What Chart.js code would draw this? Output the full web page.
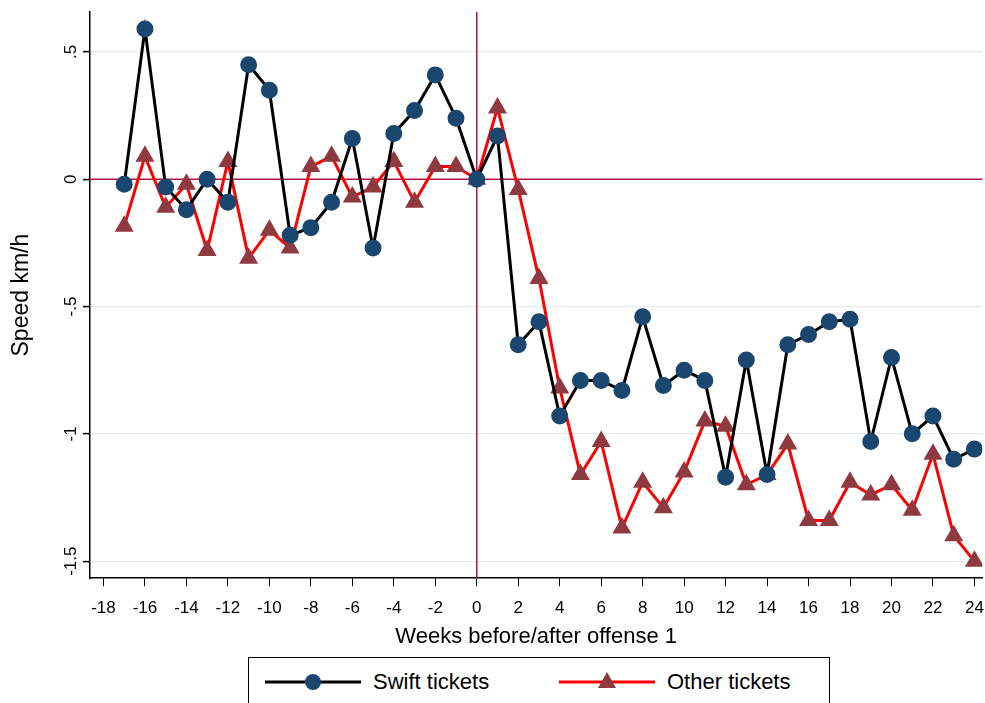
<!DOCTYPE html>
<html lang="en">
<head>
<meta charset="UTF-8">
<title>Speed before/after offense</title>
<script src="https://cdn.jsdelivr.net/npm/chart.js"></script>
<style>
 body { margin: 0; background: #fff; font-family: Arial, 'Liberation Sans', sans-serif; overflow: hidden; }
 .wrap { position: relative; width: 985px; height: 655px; overflow: hidden; }
 .legend {
   position: absolute; left: 248px; top: 657px; width: 582px; height: 50px;
   border: 1px solid #000; box-sizing: border-box; display: flex; align-items: center;
   font-size: 22px; color: #000;
 }
 .legend canvas { margin-left: 14px; margin-right: 10px; }
</style>
</head>
<body>
<div class="wrap"><canvas id="speedChart" width="996" height="654"></canvas></div>
<div class="legend">
 <canvas id="lg1" width="100" height="30"></canvas><span style="width:170px">Swift tickets</span>
 <canvas id="lg2" width="100" height="30"></canvas><span>Other tickets</span>
</div>
<script>
 let weeks = [];
 for (let w = -17; w <= 24; w++) weeks.push(w);
 let swiftTickets = [-0.02,0.59,-0.03,-0.12,0.0,-0.09,0.45,0.35,-0.22,-0.19,-0.09,0.16,-0.27,0.18,0.27,0.41,0.24,0,
   0.17,-0.65,-0.56,-0.93,-0.79,-0.79,-0.83,-0.54,-0.81,-0.75,-0.79,-1.17,-0.71,-1.16,-0.65,-0.61,-0.56,-0.55,-1.03,-0.70,-1.00,-0.93,-1.10,-1.06];
 let otherTickets = [-0.185,0.09,-0.11,-0.02,-0.28,0.07,-0.31,-0.2,-0.27,0.05,0.09,-0.07,-0.03,0.07,-0.09,0.05,0.05,0,
   0.28,-0.04,-0.39,-0.82,-1.16,-1.03,-1.37,-1.19,-1.29,-1.15,-0.95,-0.97,-1.2,-1.16,-1.04,-1.34,-1.34,-1.19,-1.24,-1.2,-1.3,-1.08,-1.4,-1.5];
 let xTicks = [-18,-16,-14,-12,-10,-8,-6,-4,-2,0,2,4,6,8,10,12,14,16,18,20,22,24];
 let yTicks = [0.5,0,-0.5,-1,-1.5];
 let yLabels = ['.5','0','-.5','-1','-1.5'];

 const refColor = '#b5123e';
 const blackLine = '#000000', blueDot = '#1a476f';
 const redLine = '#ff0000', redTri = '#8f3a40';

 const extras = {
   id: 'extras',
   beforeDatasetsDraw(chart) {
     const c = chart.ctx, a = chart.chartArea, x = chart.scales.x, y = chart.scales.y;
     c.save();
     c.strokeStyle = refColor; c.lineWidth = 1.5;
     let px = x.getPixelForValue(0), py = y.getPixelForValue(0);
     c.beginPath(); c.moveTo(px, a.top); c.lineTo(px, a.bottom); c.stroke();
     c.beginPath(); c.moveTo(a.left, py); c.lineTo(a.right, py); c.stroke();
     c.restore();
   },
   afterDraw(chart) {
     const c = chart.ctx, y = chart.scales.y, a = chart.chartArea;
     c.save();
     c.fillStyle = '#000'; c.font = '17px Arial, "Liberation Sans"';
     c.textAlign = 'center'; c.textBaseline = 'bottom';
     yTicks.forEach((v, i) => {
       c.save();
       c.translate(a.left - 10, y.getPixelForValue(v));
       c.rotate(-Math.PI / 2);
       c.fillText(yLabels[i], 0, 0);
       c.restore();
     });
     c.restore();
   }
 };

 new Chart(document.getElementById('speedChart'), {
   type: 'line',
   data: {
     labels: weeks,
     datasets: [{
       label: 'Swift tickets',
       data: weeks.map((w, i) => ({ x: w, y: swiftTickets[i] })),
       borderColor: blackLine, borderWidth: 3, pointStyle: 'circle',
       pointRadius: 7, pointBackgroundColor: blueDot, pointBorderColor: blueDot, tension: 0
     }, {
       label: 'Other tickets',
       data: weeks.map((w, i) => ({ x: w, y: otherTickets[i] })),
       borderColor: redLine, borderWidth: 3, pointStyle: 'triangle',
       pointRadius: 8, pointBackgroundColor: redTri, pointBorderColor: redTri, tension: 0
     }]
   },
   plugins: [extras],
   options: {
     responsive: false, animation: false,
     layout: { padding: { top: 12, right: 0, bottom: 0, left: 0 } },
     plugins: { legend: { display: false }, tooltip: { enabled: false } },
     scales: {
       x: {
         type: 'linear', min: -18.65, max: 24.38,
         afterBuildTicks: s => { s.ticks = xTicks.map(v => ({ value: v })); },
         ticks: { color: '#000', font: { size: 17 }, maxRotation: 0, autoSkip: false, padding: 12 },
         grid: { drawOnChartArea: false, color: '#000', tickLength: 8 },
         border: { color: '#000', width: 1.5 },
         title: { display: true, text: 'Weeks before/after offense 1', color: '#000', font: { size: 22 }, padding: { top: -7, bottom: 4 } }
       },
       y: {
         min: -1.567, max: 0.657,
         afterBuildTicks: s => { s.ticks = yTicks.map(v => ({ value: v })); },
         afterFit: s => { s.width = 90; },
         ticks: { display: false },
         grid: { color: '#e6ecee', tickLength: 7, tickColor: '#000', tickWidth: 1.5, lineWidth: 1.2 },
         border: { color: '#000', width: 1.5 },
         title: { display: true, text: 'Speed km/h', color: '#000', font: { size: 23 }, padding: { top: 8 } }
       }
     }
   }
 });

 function legendIcon(id, line, fill, style) {
   const c = document.getElementById(id).getContext('2d');
   c.strokeStyle = line; c.lineWidth = 3;
   c.beginPath(); c.moveTo(2, 15); c.lineTo(98, 15); c.stroke();
   c.fillStyle = fill; c.beginPath();
   if (style === 'circle') c.arc(50, 15, 8, 0, Math.PI * 2);
   else { c.moveTo(50, 5); c.lineTo(59, 21); c.lineTo(41, 21); c.closePath(); }
   c.fill();
 }
 legendIcon('lg1', blackLine, blueDot, 'circle');
 legendIcon('lg2', redLine, redTri, 'triangle');
</script>
</body>
</html>
